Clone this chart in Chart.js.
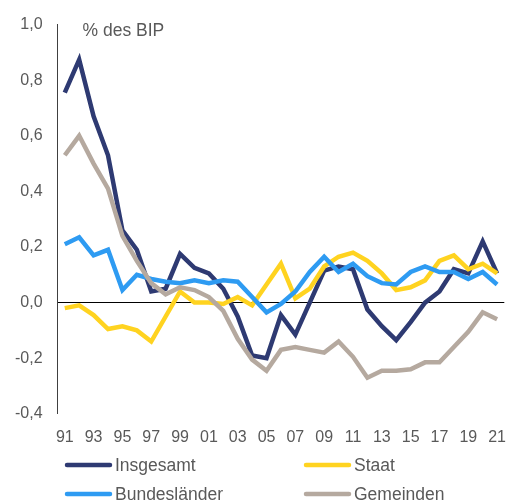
<!DOCTYPE html>
<html>
<head>
<meta charset="utf-8">
<script src="https://cdn.jsdelivr.net/npm/chart.js@4"></script>
<style>
  html, body { margin: 0; padding: 0; background: #fff; }
  #box { width: 506px; height: 500px; }
</style>
</head>
<body>
<div id="box"><canvas id="grafik"></canvas></div>
<script>
const jahre = ['91','92','93','94','95','96','97','98','99','00','01','02','03','04','05','06','07','08','09','10','11','12','13','14','15','16','17','18','19','20','21'];

const insgesamt = [0.755, 0.874, 0.67, 0.53, 0.26, 0.19, 0.04, 0.05, 0.175, 0.125, 0.105, 0.05, -0.05, -0.19, -0.20, -0.045, -0.115, 0.0, 0.115, 0.13, 0.12, -0.025, -0.085, -0.135, -0.07, 0.0, 0.04, 0.12, 0.105, 0.22, 0.105];
const staat = [-0.02, -0.01, -0.045, -0.095, -0.085, -0.10, -0.14, -0.05, 0.04, 0.0, 0.0, -0.005, 0.02, -0.01, 0.065, 0.14, 0.015, 0.05, 0.13, 0.165, 0.18, 0.15, 0.105, 0.045, 0.055, 0.08, 0.15, 0.17, 0.12, 0.14, 0.105];
const bundeslaender = [0.21, 0.235, 0.17, 0.19, 0.045, 0.10, 0.085, 0.075, 0.07, 0.08, 0.07, 0.08, 0.075, 0.02, -0.035, -0.005, 0.04, 0.11, 0.165, 0.11, 0.14, 0.095, 0.07, 0.065, 0.11, 0.13, 0.11, 0.11, 0.085, 0.11, 0.065];
const gemeinden = [0.53, 0.60, 0.50, 0.41, 0.24, 0.15, 0.07, 0.03, 0.055, 0.045, 0.02, -0.03, -0.13, -0.205, -0.245, -0.17, -0.16, -0.17, -0.18, -0.14, -0.195, -0.27, -0.245, -0.245, -0.24, -0.215, -0.215, -0.16, -0.105, -0.035, -0.06];

const einheit = '% des BIP';
const grau = '#595959';
const schrift = '"Liberation Sans", Arial, sans-serif';

// Legende in zwei Spalten unter dem Diagramm
const legende2 = {
    id: 'legende2',
    afterDraw(chart) {
        const c = chart.ctx;
        c.save();
        c.font = '17.5px ' + schrift;
        c.fillStyle = grau;
        c.textBaseline = 'middle';
        c.fillText(einheit, chart.chartArea.left + 25, chart.chartArea.top + 7);

        const spalten = [67, 306];
        const zeilen = [465, 494];
        chart.data.datasets.forEach((ds, i) => {
            const x = spalten[i % 2];
            const y = zeilen[Math.floor(i / 2)];
            c.strokeStyle = ds.borderColor;
            c.lineWidth = 4.5;
            c.lineCap = 'round';
            c.beginPath();
            c.moveTo(x, y);
            c.lineTo(x + 43, y);
            c.stroke();
            c.fillStyle = grau;
            c.fillText(ds.label, x + 48, y + 1);
        });
        c.restore();
    }
};

new Chart(document.getElementById('grafik'), {
    type: 'line',
    data: {
        labels: jahre,
        datasets: [
            { label: 'Insgesamt', data: insgesamt, borderColor: '#2E3A72', order: 3 },
            { label: 'Staat', data: staat, borderColor: '#FFD320', order: 2 },
            { label: 'Bundesländer', data: bundeslaender, borderColor: '#2E9BF2', order: 1 },
            { label: 'Gemeinden', data: gemeinden, borderColor: '#B5A99F', order: 0 }
        ]
    },
    options: {
        responsive: true,
        maintainAspectRatio: false,
        animation: false,
        elements: {
            line: { borderWidth: 4.5, tension: 0, borderJoinStyle: 'miter' },
            point: { radius: 0 }
        },
        layout: {
            padding: { left: 0, right: 0, top: 13, bottom: 53 }
        },
        plugins: {
            legend: { display: false },
            tooltip: { enabled: false }
        },
        scales: {
            x: {
                offset: true,
                grid: {
                    display: true,
                    drawOnChartArea: false,
                    drawTicks: true,
                    tickLength: 14,
                    color: 'rgba(0,0,0,0)'
                },
                border: { display: false },
                ticks: {
                    autoSkip: false,
                    maxRotation: 0,
                    padding: 0,
                    color: grau,
                    font: { family: schrift, size: 16 },
                    callback: function (v, i) { return i % 2 === 0 ? this.getLabelForValue(v) : ''; }
                }
            },
            y: {
                min: -0.4,
                max: 1.0,
                ticks: {
                    stepSize: 0.2,
                    padding: 15,
                    color: grau,
                    font: { family: schrift, size: 16 },
                    callback: v => (Math.abs(v) < 1e-9 ? 0 : v).toFixed(1).replace('.', ',')
                },
                grid: {
                    drawTicks: false,
                    color: ctx => Math.abs(ctx.tick.value) < 1e-9 ? '#000' : 'rgba(0,0,0,0)',
                    lineWidth: 1
                },
                border: { color: '#404040', width: 1 }
            }
        }
    },
    plugins: [legende2]
});
</script>
</body>
</html>
